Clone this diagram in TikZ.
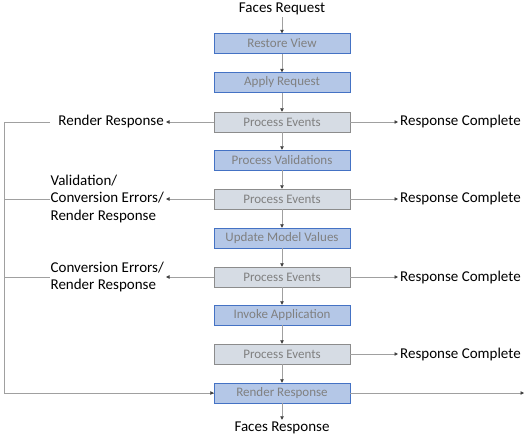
\documentclass[tikz,border=0pt]{standalone}
\usepackage{fontspec}
\setmainfont{Carlito}
\usetikzlibrary{arrows.meta}
\definecolor{phasefill}{HTML}{B4C7E7}
\definecolor{phaseedge}{HTML}{4472C4}
\definecolor{eventfill}{HTML}{D6DCE4}
\definecolor{eventedge}{HTML}{8C8C8C}
\definecolor{wiregray}{HTML}{A0A0A0}
\begin{document}
\begin{tikzpicture}[x=1pt,y=-1pt,
  phase/.style={draw=phaseedge,fill=phasefill,minimum width=136pt,minimum height=20pt,
    inner sep=0pt,text=black!50,font=\fontsize{13}{15}\selectfont},
  event/.style={phase,draw=eventedge,fill=eventfill},
  lbl/.style={font=\fontsize{15}{17.5}\selectfont,inner sep=2pt},
  wire/.style={draw=wiregray,line width=0.8pt},
  flow/.style={wire,-{Triangle[length=3.5pt,width=3.5pt,color=black!75]}}]
  \useasboundingbox (0,0) rectangle (529,438);
  % main column
  \node[lbl] (req) at (282,9) {Faces Request};
  \node[phase] (restore) at (282,43.5) {Restore View};
  \node[phase] (apply) at (282,82.5) {Apply Request};
  \node[event] (pe1) at (282,122) {Process Events};
  \node[phase] (valid) at (282,160) {Process Validations};
  \node[event] (pe2) at (282,199) {Process Events};
  \node[phase] (update) at (282,238) {Update Model Values};
  \node[event] (pe3) at (282,277) {Process Events};
  \node[phase] (invoke) at (282,315) {Invoke Application};
  \node[event] (pe4) at (282,354) {Process Events};
  \node[phase] (render) at (282,393) {Render Response};
  \node[lbl] (resp) at (282,428) {Faces Response};
  \draw[flow] (req) -- (restore);
  \draw[flow] (restore) -- (apply);
  \draw[flow] (apply) -- (pe1);
  \draw[flow] (pe1) -- (valid);
  \draw[flow] (valid) -- (pe2);
  \draw[flow] (pe2) -- (update);
  \draw[flow] (update) -- (pe3);
  \draw[flow] (pe3) -- (invoke);
  \draw[flow] (invoke) -- (pe4);
  \draw[flow] (pe4) -- (render);
  \draw[flow] (render) -- (resp);
  % left side
  \node[lbl,anchor=east] (rr1) at (166,122) {Render Response};
  \node[lbl,anchor=east,align=left] (rr2) at (166,199) {Validation/\\Conversion Errors/\\Render Response};
  \node[lbl,anchor=east,align=left] (rr3) at (166,277) {Conversion Errors/\\Render Response};
  \draw[flow] (pe1) -- (rr1);
  \draw[flow] (pe2) -- (rr2);
  \draw[flow] (pe3) -- (rr3);
  \coordinate (back) at (4,122);
  \coordinate (stub) at (50,122);
  \draw[wire] (stub) -- (back) |- (render.west);
  \draw[flow] (back |- render.west) -- (render.west);
  \draw[wire] (stub |- rr2) -- (back |- rr2);
  \draw[wire] (stub |- rr3) -- (back |- rr3);
  % right side
  \foreach \e in {pe1,pe2,pe3,pe4}
    \node[lbl,anchor=west] (rc-\e) at (398,0 |- \e) {Response Complete};
  \foreach \e in {pe1,pe2,pe3,pe4}
    \draw[flow] (\e) -- (rc-\e);
  \coordinate (out) at (524,393);
  \draw[flow] (render) -- (out);
\end{tikzpicture}
\end{document}
